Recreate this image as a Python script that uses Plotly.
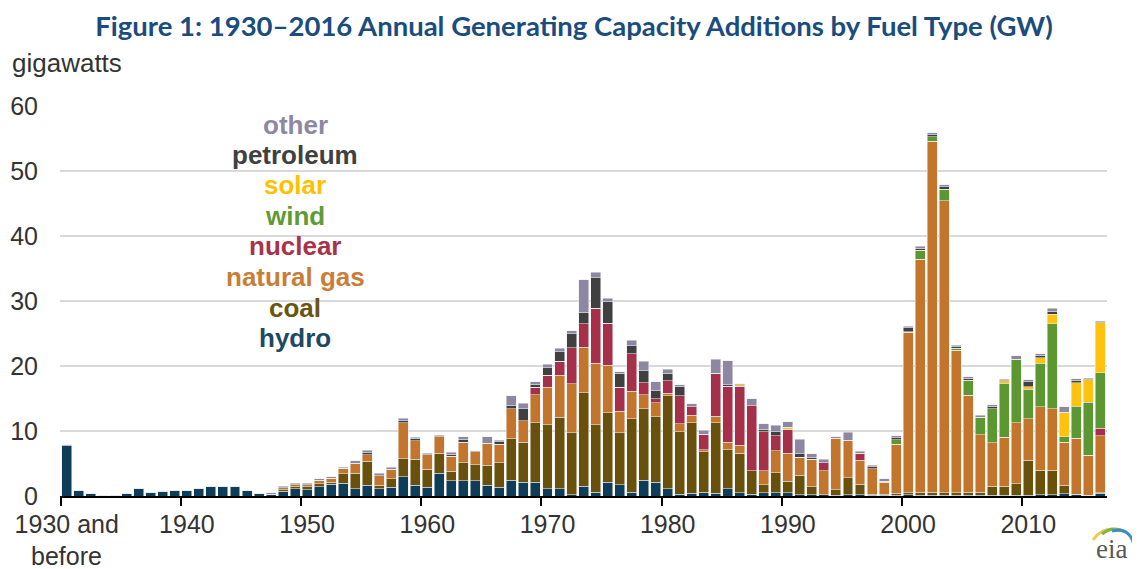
import plotly.graph_objects as go

years = list(range(1930, 2017))

hydro = [
    7.7, 0.8, 0.4, 0.1, 0.1, 0.4, 1.1, 0.5, 0.7, 0.8,
    0.8, 1.1, 1.4, 1.4, 1.4, 0.8, 0.4, 0.3, 0.7, 1.1,
    1.0, 1.45, 1.8, 2.0, 1.1, 1.65, 1.1, 1.35, 2.95, 1.65,
    1.35, 3.5, 2.35, 2.35, 2.35, 1.65, 1.35, 2.4, 2.1, 2.1,
    1.15, 1.15, 0.2, 1.5, 0.55, 2.1, 1.75, 0.55, 2.45, 2.1,
    1.15, 0.3, 0.4, 0.6, 0.4, 1.15, 0.5, 0.3, 0.5, 0.5,
    0.5, 0.2, 0.2, 0.2, 0.1, 0.2, 0.2, 0.1, 0.1, 0.1,
    0.2, 0.1, 0.1, 0.1, 0.1, 0.1, 0.1, 0.1, 0.1, 0.1,
    0.1, 0.2, 0.2, 0.35, 0.2, 0.1, 0.45]

coal = [
    0, 0, 0, 0, 0, 0, 0, 0, 0, 0,
    0, 0, 0, 0, 0, 0, 0, 0, 0.3, 0.35,
    0.4, 0.4, 0.3, 1.45, 2.4, 3.7, 0.55, 1.3, 2.75, 4.0,
    2.8, 3.1, 1.45, 2.75, 2.45, 3.1, 3.75, 6.4, 6.2, 9.15,
    9.8, 11.0, 9.5, 14.35, 10.45, 10.7, 8.0, 11.3, 10.95, 10.1,
    14.3, 9.6, 10.9, 6.2, 10.9, 6.0, 6.1, 3.6, 1.2, 3.05,
    1.8, 3.0, 1.25, 0.0, 0.9, 2.6, 1.6, 0.2, 0.2, 0.3,
    0.3, 0.5, 0.5, 0.4, 0.4, 0.5, 0.5, 1.4, 1.4, 1.8,
    5.4, 3.8, 3.8, 1.3, 0.1, 0.05, 0.05]

natural_gas = [
    0, 0, 0, 0, 0, 0, 0, 0, 0, 0,
    0, 0, 0, 0, 0, 0, 0, 0, 0.3, 0.3,
    0.3, 0.6, 0.6, 0.8, 1.55, 1.0, 1.5, 1.5, 5.6, 2.85,
    2.2, 2.5, 2.3, 3.2, 2.0, 3.4, 2.9, 4.6, 3.3, 4.3,
    5.75, 6.4, 7.6, 7.0, 9.4, 7.35, 3.3, 4.3, 2.2, 2.15,
    0.35, 1.25, 1.15, 0.3, 0.95, 1.15, 1.2, 0.0, 2.2, 3.4,
    4.25, 2.8, 4.2, 3.65, 7.85, 5.8, 3.7, 3.9, 1.8, 7.6,
    24.7, 35.8, 54.0, 44.9, 21.9, 14.9, 8.8, 6.7, 7.55, 9.4,
    6.4, 9.7, 9.4, 6.6, 8.6, 6.1, 8.8]

nuclear = [
    0, 0, 0, 0, 0, 0, 0, 0, 0, 0,
    0, 0, 0, 0, 0, 0, 0, 0, 0, 0,
    0, 0, 0, 0, 0, 0, 0, 0, 0, 0,
    0, 0, 0, 0, 0, 0, 0, 0, 0, 1.15,
    1.85, 2.2, 5.5, 3.65, 8.5, 6.4, 3.7, 5.75, 1.8, 0.6,
    1.9, 4.3, 1.25, 2.4, 6.6, 8.6, 9.1, 10.0, 6.0, 2.35,
    3.75, 0, 0, 1.25, 0, 0, 1.1, 0, 0, 0,
    0, 0, 0, 0, 0, 0, 0, 0, 0, 0,
    0, 0, 0, 0, 0, 0, 1.15]

wind = [
    0, 0, 0, 0, 0, 0, 0, 0, 0, 0,
    0, 0, 0, 0, 0, 0, 0, 0, 0, 0,
    0, 0, 0, 0, 0, 0, 0, 0, 0, 0,
    0, 0, 0, 0, 0, 0, 0, 0, 0, 0,
    0, 0, 0, 0, 0, 0, 0, 0, 0, 0,
    0, 0, 0, 0, 0, 0, 0, 0, 0, 0,
    0, 0, 0, 0, 0, 0, 0, 0, 0.2, 0.65,
    0.05, 1.4, 0.65, 1.8, 0.3, 2.3, 2.75, 5.2, 8.3, 9.75,
    4.55, 6.7, 13.1, 0.9, 4.9, 8.2, 8.5]

solar = [
    0, 0, 0, 0, 0, 0, 0, 0, 0, 0,
    0, 0, 0, 0, 0, 0, 0, 0, 0, 0,
    0, 0, 0, 0, 0, 0, 0, 0, 0, 0,
    0, 0, 0, 0, 0, 0, 0, 0, 0, 0,
    0, 0, 0, 0, 0, 0, 0, 0, 0, 0,
    0, 0, 0, 0, 0, 0, 0.25, 0, 0, 0,
    0.3, 0, 0, 0, 0, 0, 0, 0, 0, 0,
    0, 0, 0, 0, 0, 0, 0, 0, 0.35, 0,
    0.35, 0.9, 1.5, 3.7, 3.65, 3.4, 7.7]

petroleum = [
    0, 0, 0, 0, 0, 0, 0, 0, 0, 0,
    0, 0, 0, 0, 0, 0, 0, 0, 0, 0,
    0, 0, 0, 0, 0, 0.3, 0, 0, 0.25, 0.35,
    0, 0, 0.3, 0.4, 0, 0, 0.35, 0.6, 1.8, 0.5,
    1.2, 1.45, 2.15, 1.8, 4.65, 3.35, 2.15, 1.25, 1.9, 1.25,
    1.2, 1.45, 0, 0, 0, 0.25, 0, 0, 0.35, 0.6,
    0, 0.5, 0.35, 0, 0, 0, 0, 0.3, 0, 0.35,
    0.65, 0.35, 0.35, 0.4, 0.25, 0.3, 0, 0.4, 0, 0,
    0.75, 0.35, 0.4, 0, 0.35, 0, 0]

other = [
    0.2, 0, 0, 0, 0, 0, 0, 0, 0.1, 0,
    0, 0, 0, 0, 0, 0, 0, 0.2, 0.2, 0.25,
    0.25, 0.2, 0.25, 0.2, 0.4, 0.4, 0.35, 0.3, 0.4, 0.2,
    0.25, 0.25, 0.3, 0.45, 0.2, 1.0, 0.2, 1.4, 0.9, 0.35,
    0.5, 0.55, 0.5, 4.95, 0.9, 0.55, 0.25, 0.85, 1.4, 1.4,
    0.6, 0.25, 0.5, 0.6, 2.2, 3.65, 0.15, 1.1, 0.9, 0.95,
    0.85, 2.2, 0.5, 0.55, 0.25, 1.2, 0.25, 0.2, 0.35, 0.25,
    0.25, 0.25, 0.25, 0.25, 0.25, 0.25, 0.25, 0.25, 0.25, 0.55,
    0.35, 0.25, 0.5, 0.85, 0.25, 0.25, 0.25]

series_names = ["hydro", "coal", "natural gas", "nuclear", "wind", "solar", "petroleum", "other"]
series_values = [hydro, coal, natural_gas, nuclear, wind, solar, petroleum, other]
bar_colors = ["#0e3d5a", "#6a510b", "#c2752b", "#a6304a", "#5d9732", "#ffc20e", "#404040", "#8e87a3"]
label_colors = ["#1b4a64", "#6a5410", "#c97d36", "#a8324a", "#5e9b35", "#ffc000", "#404040", "#8e87a3"]
label_y = [24.3, 28.9, 33.7, 38.5, 43.1, 47.8, 52.5, 57.1]

decade_ticks = [1930, 1940, 1950, 1960, 1970, 1980, 1990, 2000, 2010]
decade_labels = ["1930 and", "1940", "1950", "1960", "1970", "1980", "1990", "2000", "2010"]
y_ticks = [0, 10, 20, 30, 40, 50, 60]

ARIAL = "Liberation Sans, Arial, sans-serif"
TXT = "#333333"

# page has an 8px body margin: figure is 1132x561 placed at (8, 8)
W, H = 1132, 561
PLOT_L, PLOT_W, PLOT_B, PLOT_H = 60, 1047, 496, 390  # page pixels of plot area


def px(x):
    return (x - PLOT_L) / PLOT_W


def py(y):
    return (PLOT_B - y) / PLOT_H


fig = go.Figure()
for name, vals, col in zip(series_names, series_values, bar_colors):
    fig.add_trace(go.Bar(
        x=years, y=vals, name=name, width=0.83,
        marker=dict(color=col, line=dict(color="rgba(235,235,235,0.9)", width=0.6)),
        showlegend=False))

for name, col, yv in zip(series_names, label_colors, label_y):
    fig.add_annotation(x=1949.0, y=yv, xref="x", yref="y", text="<b>%s</b>" % name,
                       showarrow=False, xanchor="center", yanchor="middle",
                       font=dict(family=ARIAL, size=26, color=col))

xr = [1929.44, 2016.55]
fig.update_layout(
    width=W, height=H,
    margin=dict(l=52, r=33, t=98, b=73, autoexpand=False),
    paper_bgcolor="white", plot_bgcolor="white",
    barmode="stack",
    title=dict(text="<b>Figure 1: 1930\u20132016 Annual Generating Capacity Additions by Fuel Type (GW)</b>",
               x=0.5, xanchor="center", y=1 - 18 / H, yanchor="middle", yref="container",
               font=dict(family="Lato, Open Sans, sans-serif", size=27.5, color="#1a4c7e")),
    font=dict(family=ARIAL, size=25, color=TXT),
    xaxis=dict(range=xr, tickmode="array", tickvals=[d - 0.5 for d in decade_ticks],
               ticktext=["" for _ in decade_ticks], ticks="outside", ticklen=8, tickwidth=1.5,
               tickcolor="black", showline=True, linecolor="black", linewidth=1.5,
               showgrid=False, zeroline=False, automargin=False),
    xaxis2=dict(range=xr, overlaying="x", matches="x", side="bottom", anchor="y",
                tickmode="array", tickvals=decade_ticks, ticktext=decade_labels,
                ticks="", showline=False, showgrid=False, zeroline=False,
                ticklabelstandoff=11, automargin=False,
                tickfont=dict(family=ARIAL, size=25, color=TXT)),
    yaxis=dict(range=[0, 60], tickmode="array", tickvals=y_ticks, showgrid=True,
               gridcolor="#d9d9d9", gridwidth=2, zeroline=False, showline=False,
               ticks="", ticklabelstandoff=21, automargin=False,
               tickfont=dict(family=ARIAL, size=25, color=TXT)),
    bargap=0.17,
)
fig.add_trace(go.Scatter(x=[], y=[], xaxis="x2", yaxis="y", showlegend=False))

fig.add_annotation(text="before", xref="x", yref="paper", x=1930, y=py(556),
                   xanchor="center", yanchor="middle", showarrow=False,
                   font=dict(family=ARIAL, size=25, color=TXT))
fig.add_annotation(text="gigawatts", xref="paper", yref="paper", x=px(10), y=py(63),
                   xanchor="left", yanchor="middle", showarrow=False,
                   font=dict(family=ARIAL, size=26, color=TXT))

# eia logo (text + swoosh)
fig.add_annotation(text="eia", xref="paper", yref="paper", x=px(1111), y=py(549),
                   xanchor="center", yanchor="middle", showarrow=False, borderpad=0,
                   font=dict(family="Liberation Serif, DejaVu Serif, serif", size=27, color="#58595b"))
swooshes = [
    ("#f2c94c", (1093, 540), (1100, 529), (1113, 529)),
    ("#7ab648", (1102, 534), (1113, 525), (1126, 532)),
    ("#3a8dc8", (1112, 531), (1130, 527), (1134, 545)),
]
for col, p0, pc, p1 in swooshes:
    fig.add_shape(type="path", xref="paper", yref="paper",
                  path="M %f,%f Q %f,%f %f,%f" % (px(p0[0]), py(p0[1]), px(pc[0]), py(pc[1]),
                                                   px(p1[0]), py(p1[1])),
                  line=dict(color=col, width=3))

fig.write_html("out.html")
